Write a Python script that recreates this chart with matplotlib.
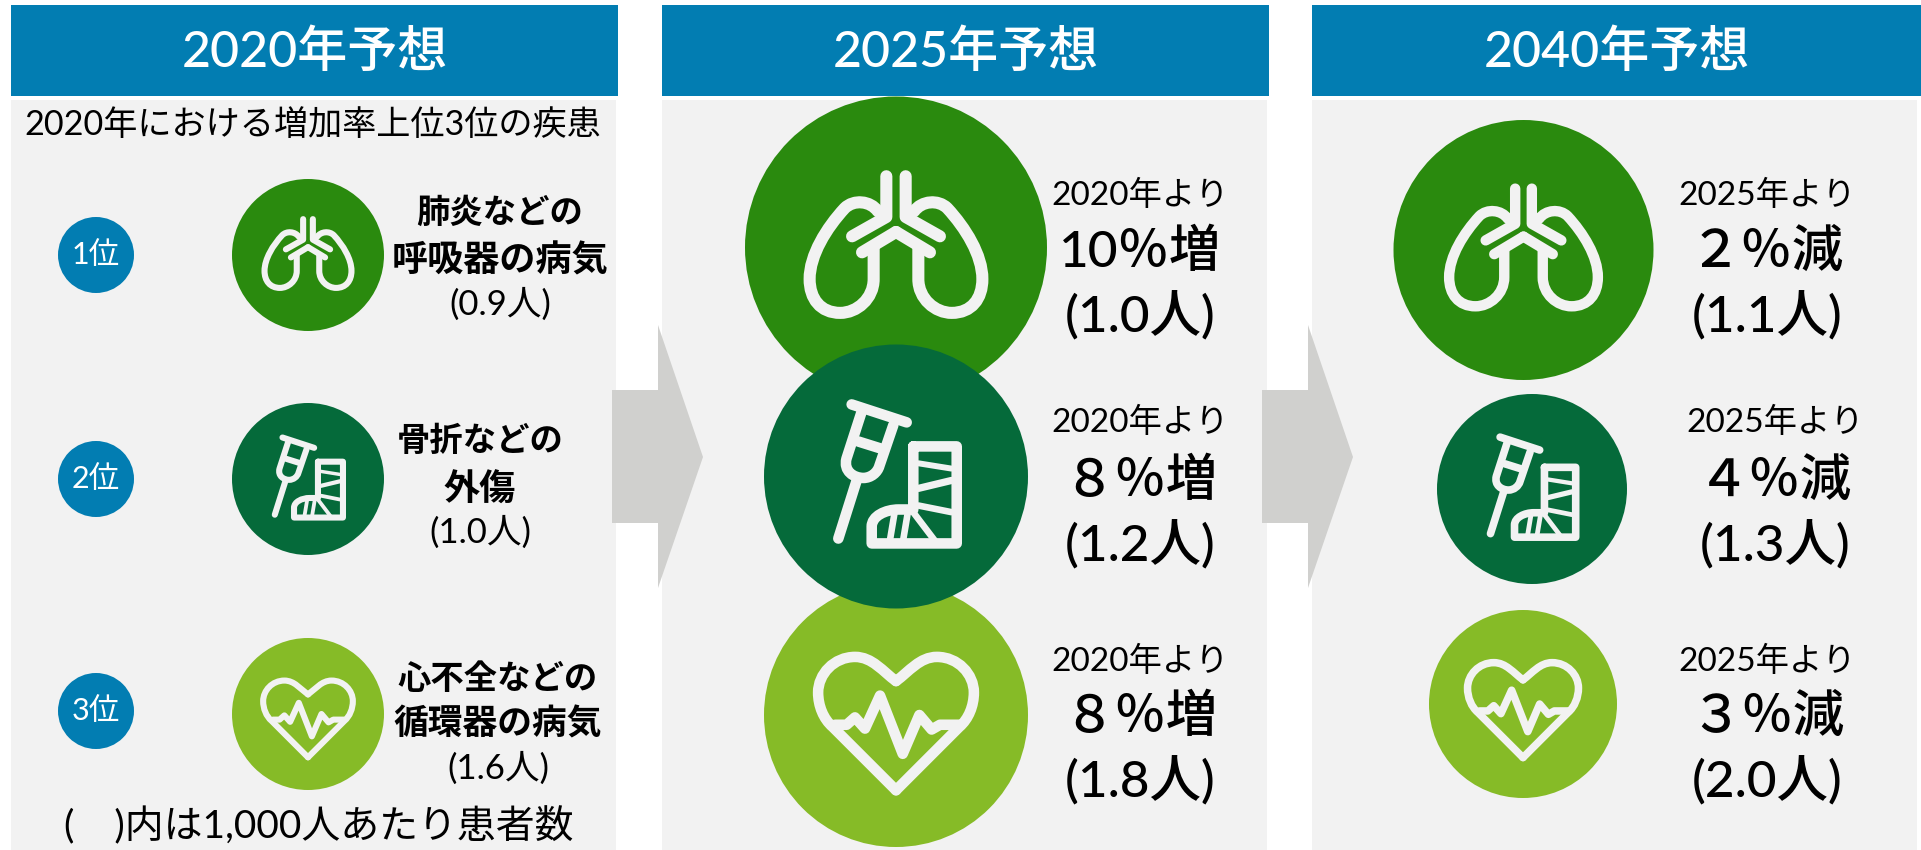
# -*- coding: utf-8 -*-
import matplotlib
matplotlib.use('Agg')
import matplotlib.pyplot as plt
from matplotlib.patches import Circle, Polygon, Rectangle, PathPatch
from matplotlib.path import Path

FONT = ['Lato', 'Noto Sans CJK JP']
plt.rcParams['font.family'] = FONT

BLUE = '#027DB2'
GREEN = '#2A8A0E'
DARK = '#056A3A'
LIGHT = '#86BB27'
GREY = '#F2F2F2'
ARROW = '#D0D0CE'

# data
headers = ['2020年予想', '2025年予想', '2040年予想']
subtitle = '2020年における増加率上位3位の疾患'
note = '(    )内は1,000人あたり患者数'
ranks = ['1位', '2位', '3位']
diseases = [['肺炎などの', '呼吸器の病気'], ['骨折などの', '外傷'], ['心不全などの', '循環器の病気']]
rate_2020 = ['(0.9人)', '(1.0人)', '(1.6人)']
since_2025 = ['2020年より', '2020年より', '2020年より']
change_2025 = ['10％増', '８％増', '８％増']
rate_2025 = ['(1.0人)', '(1.2人)', '(1.8人)']
since_2040 = ['2025年より', '2025年より', '2025年より']
change_2040 = ['２％減', '４％減', '３％減']
rate_2040 = ['(1.1人)', '(1.3人)', '(2.0人)']

fig = plt.figure(figsize=(19.21, 8.5), dpi=100, facecolor='white')
ax = fig.add_axes([0, 0, 1, 1])
ax.set_xlim(0, 1921)
ax.set_ylim(850, 0)
ax.axis('off')


def txt(x, y, s, size, color='black', weight='normal'):
    ax.text(x, y, s, fontsize=size, color=color, weight=weight, ha='center',
            va='center', family=FONT, zorder=10)


def stroke(cx, cy, r, verts, codes=None, lw=0.08, z=6):
    pts = [(cx + a * r, cy + b * r) for a, b in verts]
    if codes is None:
        codes = [Path.MOVETO] + [Path.LINETO] * (len(pts) - 1)
    ax.add_patch(PathPatch(Path(pts, codes), fill=False, ec=GREY, lw=lw * r * 0.72,
                           capstyle='round', joinstyle='round', zorder=z))


C4 = Path.CURVE4


def lungs(cx, cy, r, z=3):
    for s in (1, -1):
        stroke(cx, cy, r, [(s * .064, -.472), (s * .064, -.202), (s * .291, -.074)], z=z)
        stroke(cx, cy, r, [(0, -.103), (s * .225, .032)], z=z)
        lobe = [(.148, 0.0), (.148, .209), (.148, .34), (.26, .433), (.369, .433),
                (.50, .433), (.572, .34), (.572, .209), (.572, .05), (.46, -.13),
                (.34, -.26), (.28, -.32), (.17, -.31), (.12, -.24)]
        codes = [Path.MOVETO, Path.LINETO] + [C4] * 12
        stroke(cx, cy, r, [(s * a, b) for a, b in lobe], codes, z=z)


def crutch(cx, cy, r, z=3):
    stroke(cx, cy, r, [(-.336, -.546), (.081, -.41)], z=z)
    stroke(cx, cy, r, [(-.256, -.504), (-.375, -.136), (-.40, -.04), (-.32, .011), (-.247, .011),
                       (-.19, .011), (-.14, -.03), (-.126, -.08), (-.02, -.39)],
           [Path.MOVETO, Path.LINETO, C4, C4, C4, C4, C4, C4, Path.LINETO], z=z)
    stroke(cx, cy, r, [(-.285, -.265), (-.109, -.21)], z=z)
    stroke(cx, cy, r, [(-.298, .03), (-.437, .47)], z=z)
    # cast
    stroke(cx, cy, r, [(.131, -.228), (.46, -.228), (.46, .507), (-.184, .507), (-.184, .379),
                       (-.184, .30), (-.08, .25), (.02, .25), (.131, .25), (.131, -.228)],
           [Path.MOVETO] + [Path.LINETO] * 4 + [C4] * 3 + [Path.LINETO] * 2, z=z)
    stroke(cx, cy, r, [(.17, -.10), (.42, -.06)], lw=.045, z=z)
    stroke(cx, cy, r, [(.17, .09), (.42, .03)], lw=.055, z=z)
    stroke(cx, cy, r, [(.17, .22), (.42, .27)], lw=.05, z=z)
    stroke(cx, cy, r, [(.13, .27), (.31, .507)], lw=.05, z=z)
    stroke(cx, cy, r, [(-.01, .27), (-.05, .507)], lw=.05, z=z)
    stroke(cx, cy, r, [(.09, .27), (.05, .507)], lw=.05, z=z)


def heart(cx, cy, r, z=3):
    for s in (1, -1):
        half = [(0, -.257), (-.1, -.33), (-.18, -.44), (-.31, -.44), (-.47, -.44), (-.59, -.31),
                (-.59, -.17), (-.59, -.07), (-.55, .03), (-.48, .09), (0, .57)]
        stroke(cx, cy, r, [(s * a, b) for a, b in half],
               [Path.MOVETO] + [C4] * 9 + [Path.LINETO], z=z)
    stroke(cx, cy, r, [(-.462, .074), (-.374, .074), (-.311, .018), (-.235, .103), (-.121, -.147),
                       (.051, .294), (.177, 0), (.27, .11), (.333, .074), (.485, .074)], z=z)


def badge(cx, cy, r, col, icon, z):
    ax.add_patch(Circle((cx, cy), r, fc=col, ec='none', zorder=z))
    icon(cx, cy, r, z=z + 0.5)


def arrow(x0):
    ax.add_patch(Polygon([(x0, 390), (x0 + 46, 390), (x0 + 46, 325), (x0 + 91, 457),
                          (x0 + 46, 588), (x0 + 46, 523), (x0, 523)],
                         closed=True, fc=ARROW, ec='none', zorder=2))


# panels
for (x0, x1), hx1, title in zip([(11, 616), (662, 1267), (1312, 1917)], [618, 1269, 1921], headers):
    ax.add_patch(Rectangle((x0, 100), x1 - x0, 750, fc=GREY, ec='none', zorder=1))
    ax.add_patch(Rectangle((x0, 5), hx1 - x0, 91, fc=BLUE, ec='none', zorder=1))
    txt((x0 + hx1) / 2, 53, title, 36, 'white', weight='medium')

arrow(612)
arrow(1262)

# 2020 column
txt(313, 125, subtitle, 24.6)
for y, rk in zip([255, 479, 711], ranks):
    ax.add_patch(Circle((96, y), 38, fc=BLUE, ec='none', zorder=3))
    txt(96, y, rk, 22, 'white')
icons = [lungs, crutch, heart]
cols = [GREEN, DARK, LIGHT]
for y, ic, c in zip([255, 479, 714], icons, cols):
    badge(308, y, 76, c, ic, 3)

ys_lab = [[212, 260, 304], [440, 490, 532], [678, 724, 768]]
xs_lab = [500, 480, 498]
size_top = [24, 24, 24]
size_mid = [26, 26, 25]
for i in range(3):
    txt(xs_lab[i], ys_lab[i][0], diseases[i][0], size_top[i], weight='bold')
    txt(xs_lab[i], ys_lab[i][1], diseases[i][1], size_mid[i], weight='bold')
    txt(xs_lab[i], ys_lab[i][2], rate_2020[i], 25)
txt(319, 826, note, 28)

# 2025 column, dark circle sits on top of the other two
badge(896, 247.5, 151, GREEN, lungs, 3)
badge(896, 715, 132, LIGHT, heart, 3)
badge(896, 476.5, 132, DARK, crutch, 4)

# 2040 column
badge(1523.5, 250, 130, GREEN, lungs, 3)
badge(1532, 489, 95, DARK, crutch, 3)
badge(1523, 704, 94, LIGHT, heart, 3)

ys_big = [[195, 252, 317], [422, 481, 546], [661, 717, 782]]
xs_2040 = [1767, 1775, 1767]
for i in range(3):
    txt(1140, ys_big[i][0], since_2025[i], 24)
    txt(1140, ys_big[i][1], change_2025[i], 37, weight='medium')
    txt(1140, ys_big[i][2], rate_2025[i], 37, weight='medium')
    txt(xs_2040[i], ys_big[i][0], since_2040[i], 24)
    txt(xs_2040[i], ys_big[i][1], change_2040[i], 37, weight='medium')
    txt(xs_2040[i], ys_big[i][2], rate_2040[i], 37, weight='medium')

fig.savefig('out.png', dpi=100, facecolor='white')
